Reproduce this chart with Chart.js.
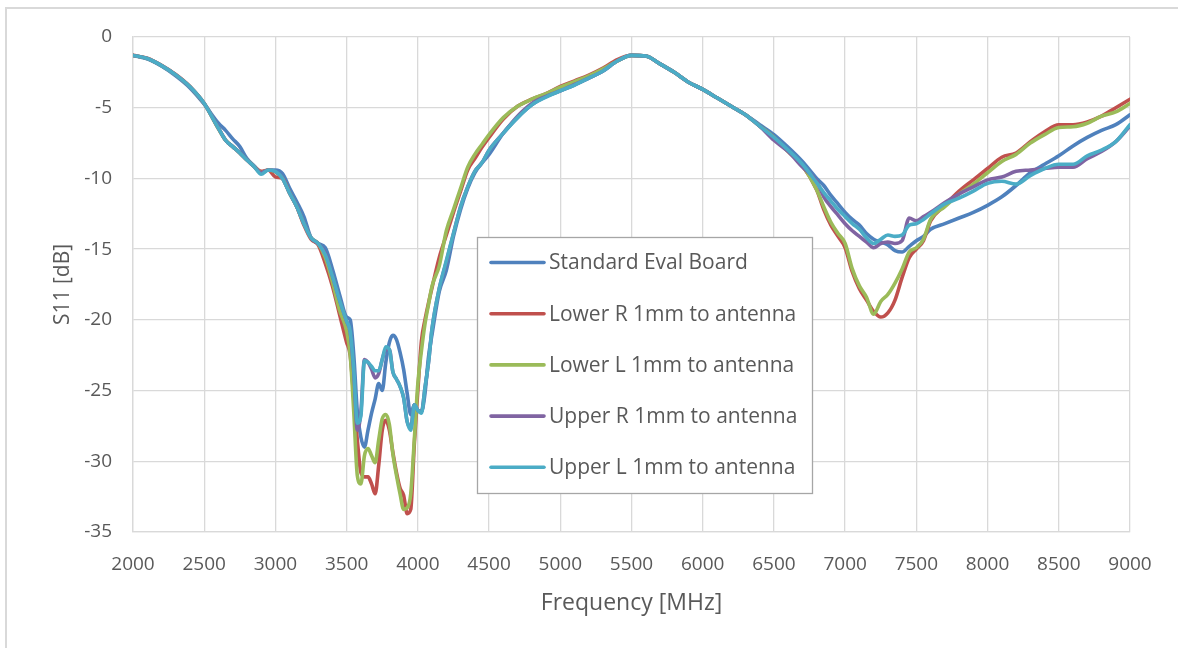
<!DOCTYPE html>
<html>
<head>
<meta charset="utf-8">
<script src="https://cdn.jsdelivr.net/npm/chart.js@4.4.1/dist/chart.umd.min.js"></script>
<style>
  body { margin: 0; background: #fff; overflow: hidden; }
  .frame { position: absolute; left: 5px; top: 7px; width: 1300px; height: 800px; border: 2px solid #d9d9d9; }
  canvas { position: absolute; left: 0; top: 0; }
</style>
</head>
<body>
<div class="frame"></div>
<canvas id="s11Chart" width="1178" height="648"></canvas>
<script>
const freqs = [
    2000, 2100, 2200, 2300, 2400, 2500, 2600,
    2650, 2700, 2750, 2800, 2850, 2900, 2950, 3000, 3050, 3100, 3150, 3200, 3250, 3300, 3350, 3400, 3450, 3500,
    3525, 3550, 3575, 3600, 3625, 3650, 3675, 3700, 3725, 3750, 3775, 3800, 3825, 3850, 3875, 3900, 3925, 3950, 3975, 4000, 4025, 4050, 4075, 4100,
    4150, 4200, 4250, 4300, 4350, 4400, 4450, 4500,
    4600, 4700, 4800, 4900, 5000, 5100, 5200, 5300, 5400, 5500, 5600, 5700, 5800, 5900, 6000, 6100, 6200, 6300, 6400, 6500, 6600, 6700, 6800,
    6850, 6900, 6950, 7000, 7050, 7100, 7150, 7200, 7250, 7300, 7350, 7400, 7450, 7500, 7550, 7600,
    7700, 7800, 7900, 8000, 8100, 8200, 8300, 8400, 8500, 8600, 8700, 8800, 8900, 9000
]

const standardEval = [
    -1.3, -1.55, -2.05, -2.75, -3.6, -4.75, -6.1,
    -6.6, -7.2, -7.75, -8.6, -9.1, -9.6, -9.4, -9.4, -9.65, -10.7, -11.65, -12.7, -14.2, -14.6, -14.9, -16.4, -18.2, -19.8,
    -20.0, -22.5, -26.5, -28.3, -29.0, -27.8, -26.6, -25.6, -24.5, -25.0, -23.0, -21.6, -21.1, -21.4, -22.3, -23.5, -25.2, -26.7, -26.0, -26.4, -26.5, -25.2, -22.6, -21.0,
    -18.0, -16.5, -14.1, -12.2, -10.7, -9.6, -8.9, -8.3,
    -6.8, -5.7, -4.8, -4.2, -3.8, -3.4, -2.9, -2.4, -1.7, -1.3, -1.35, -1.9, -2.5, -3.2, -3.7, -4.3, -4.9, -5.5, -6.2, -6.9, -7.8, -8.8, -10.0,
    -10.5, -11.2, -11.8, -12.4, -12.9, -13.3, -13.9, -14.3, -14.5, -14.7, -15.1, -15.2, -14.8, -14.4, -14.1, -13.6,
    -13.2, -12.8, -12.4, -11.9, -11.3, -10.5, -9.6, -9.0, -8.4, -7.7, -7.1, -6.6, -6.2, -5.5
]

const lowerR = [
    -1.3, -1.5, -2.0, -2.65, -3.5, -4.7, -6.45,
    -7.3, -7.75, -8.2, -8.7, -9.15, -9.5, -9.4, -9.9, -10.0, -11.05, -12.0, -13.3, -14.3, -14.7, -16.0, -17.6, -19.6, -21.6,
    -22.5, -25.5, -28.5, -30.8, -31.1, -31.1, -31.6, -32.3, -30.3, -27.8, -27.1, -27.8, -29.4, -30.8, -31.9, -32.4, -33.7, -33.4, -28.8, -25.0, -21.5, -20.0, -18.8, -17.7,
    -15.6, -14.0, -12.4, -10.9, -9.4, -8.6, -7.8, -7.1,
    -5.8, -4.9, -4.4, -4.0, -3.5, -3.1, -2.7, -2.2, -1.6, -1.3, -1.35, -1.9, -2.5, -3.2, -3.7, -4.3, -4.9, -5.5, -6.3, -7.1, -8.1, -9.1, -10.8,
    -12.2, -13.3, -14.1, -14.9, -16.6, -17.8, -18.6, -19.4, -19.8, -19.5, -18.6, -17.0, -15.6, -15.0, -14.4, -13.0,
    -11.9, -10.9, -10.1, -9.3, -8.5, -8.2, -7.4, -6.7, -6.2, -6.2, -6.0, -5.6, -5.0, -4.4
]

const lowerL = [
    -1.3, -1.52, -2.02, -2.68, -3.52, -4.7, -6.5,
    -7.3, -7.75, -8.2, -8.7, -9.15, -9.6, -9.4, -9.55, -10.0, -11.05, -12.0, -13.2, -14.2, -14.6, -15.6, -17.3, -19.3, -20.8,
    -22.5, -26.5, -31.0, -31.6, -29.6, -29.1, -29.6, -30.1, -28.5, -27.0, -26.7, -27.4, -29.5, -31.0, -32.3, -33.4, -33.3, -32.3, -28.5, -24.5, -22.2, -20.3, -18.9, -17.6,
    -16.2, -13.7, -12.2, -10.7, -9.2, -8.3, -7.6, -6.9,
    -5.7, -4.9, -4.4, -4.0, -3.55, -3.15, -2.75, -2.25, -1.7, -1.3, -1.35, -1.9, -2.5, -3.2, -3.7, -4.3, -4.9, -5.5, -6.3, -7.1, -8.1, -9.1, -10.8,
    -12.0, -13.1, -13.9, -14.6, -16.4, -17.6, -18.4, -19.6, -18.7, -18.2, -17.4, -16.4, -15.2, -14.9, -14.3, -12.9,
    -12.0, -11.1, -10.4, -9.6, -8.8, -8.3, -7.5, -6.9, -6.4, -6.35, -6.1, -5.6, -5.3, -4.7
]

const upperR = [
    -1.3, -1.52, -2.02, -2.68, -3.52, -4.7, -6.45,
    -7.3, -7.75, -8.2, -8.7, -9.15, -9.6, -9.4, -9.5, -10.0, -11.05, -12.0, -13.2, -14.2, -14.6, -15.3, -16.9, -18.6, -20.1,
    -20.9, -23.7, -27.8, -26.5, -22.8, -23.0, -23.5, -24.1, -23.8, -22.8, -22.1, -22.1, -23.7, -24.2, -24.7, -25.5, -27.2, -27.6, -26.0, -26.4, -26.5, -24.8, -23.0, -20.6,
    -17.8, -15.9, -13.9, -12.0, -10.6, -9.5, -8.9, -8.0,
    -6.8, -5.6, -4.7, -4.2, -3.8, -3.35, -2.9, -2.4, -1.7, -1.3, -1.35, -1.9, -2.5, -3.2, -3.7, -4.3, -4.9, -5.5, -6.3, -7.3, -8.1, -9.2, -10.2,
    -11.3, -12.0, -12.6, -13.2, -13.7, -14.1, -14.5, -14.9, -14.6, -14.5, -14.6, -14.4, -12.8, -13.0, -12.7, -12.4,
    -11.7, -11.1, -10.6, -10.1, -9.9, -9.5, -9.4, -9.3, -9.2, -9.2, -8.6, -8.1, -7.4, -6.3
]

const upperL = [
    -1.3, -1.52, -2.02, -2.68, -3.52, -4.7, -6.45,
    -7.3, -7.75, -8.2, -8.7, -9.15, -9.7, -9.4, -9.5, -10.0, -11.05, -12.0, -13.2, -14.2, -14.6, -15.4, -16.9, -18.6, -20.1,
    -20.8, -23.5, -27.3, -26.8, -22.9, -23.0, -23.3, -23.6, -23.6, -22.8, -21.9, -22.1, -23.7, -24.2, -24.7, -25.5, -27.2, -27.8, -26.0, -26.4, -26.6, -24.8, -23.0, -20.6,
    -17.8, -15.8, -13.9, -12.0, -10.6, -9.5, -8.9, -8.0,
    -6.8, -5.7, -4.8, -4.25, -3.8, -3.4, -2.9, -2.4, -1.7, -1.3, -1.35, -1.9, -2.5, -3.2, -3.7, -4.3, -4.9, -5.5, -6.3, -7.1, -8.0, -9.0, -10.3,
    -11.0, -11.6, -12.2, -12.7, -13.2, -13.6, -14.2, -14.6, -14.3, -14.0, -14.1, -14.0, -13.3, -13.2, -12.9, -12.5,
    -11.8, -11.4, -10.9, -10.35, -10.2, -10.4, -9.8, -9.3, -9.0, -9.0, -8.4, -8.0, -7.4, -6.2
]

const seriesNames = ['Standard Eval Board', 'Lower R 1mm to antenna', 'Lower L 1mm to antenna', 'Upper R 1mm to antenna', 'Upper L 1mm to antenna']
const seriesValues = [standardEval, lowerR, lowerL, upperR, upperL]
const colors = ['#4F81BD', '#C0504D', '#9BBB59', '#8064A2', '#4BACC6']

const FONT = "'Open Sans', 'DejaVu Sans', sans-serif"
const TEXT = '#595959'
const GRID = '#d9d9d9'

let datasets = seriesNames.map((name, k) => ({
    label: name,
    data: freqs.map((f, i) => ({ x: f, y: seriesValues[k][i] })),
    borderColor: colors[k],
    backgroundColor: colors[k],
    borderWidth: 3.6,
    pointRadius: 0,
    cubicInterpolationMode: 'monotone',
    borderCapStyle: 'round',
    borderJoinStyle: 'round',
    order: seriesNames.length - k   // last series on top, like the original
}))

// legend box sitting inside the plot
const boxLegend = {
    id: 'boxLegend',
    afterDatasetsDraw(chart) {
        let ctx = chart.ctx
        let left = 477.5, top = 237.5, w = 335, h = 256
        ctx.save()
        ctx.fillStyle = '#fff'
        ctx.fillRect(left, top, w, h)
        ctx.strokeStyle = '#a6a6a6'
        ctx.lineWidth = 1.3
        ctx.strokeRect(left, top, w, h)
        ctx.font = "21px " + FONT
        ctx.textBaseline = 'middle'
        ctx.fillStyle = TEXT
        chart.data.datasets.forEach((ds, i) => {
            let y = top + 25 + i * 51.2
            ctx.strokeStyle = ds.borderColor
            ctx.lineWidth = 3.6
            ctx.lineCap = 'round'
            ctx.beginPath()
            ctx.moveTo(491, y)
            ctx.lineTo(544, y)
            ctx.stroke()
            ctx.fillText(ds.label, 549, y + 1)
        })
        ctx.restore()
    }
}

new Chart(document.getElementById('s11Chart'), {
    type: 'line',
    data: { datasets: datasets },
    plugins: [boxLegend],
    options: {
        responsive: false,
        animation: false,
        layout: { padding: { top: 37, right: 48, left: 0, bottom: 0 } },
        plugins: {
            legend: { display: false },
            tooltip: { enabled: false }
        },
        scales: {
            x: {
                type: 'linear',
                min: 2000,
                max: 9000,
                afterFit: (scale) => { scale.height = 116 },
                ticks: {
                    stepSize: 500,
                    color: TEXT,
                    padding: 21,
                    font: { family: FONT, size: 19 },
                    callback: (v) => String(v)
                },
                grid: { color: GRID, lineWidth: 1.3, drawTicks: false },
                border: { color: GRID, width: 1.3 },
                title: {
                    display: true,
                    text: 'Frequency [MHz]',
                    color: TEXT,
                    font: { family: FONT, size: 23 },
                    padding: { top: 0, bottom: 31 }
                }
            },
            y: {
                min: -35,
                max: 0,
                afterFit: (scale) => { scale.width = 133 },
                ticks: {
                    stepSize: 5,
                    color: TEXT,
                    padding: 21,
                    font: { family: FONT, size: 19 }
                },
                grid: { color: GRID, lineWidth: 1.3, drawTicks: false },
                border: { color: GRID, width: 1.3 },
                title: {
                    display: true,
                    text: 'S11 [dB]',
                    color: TEXT,
                    font: { family: FONT, size: 21 },
                    padding: { top: 50, bottom: 0 }
                }
            }
        }
    }
})
</script>
</body>
</html>
